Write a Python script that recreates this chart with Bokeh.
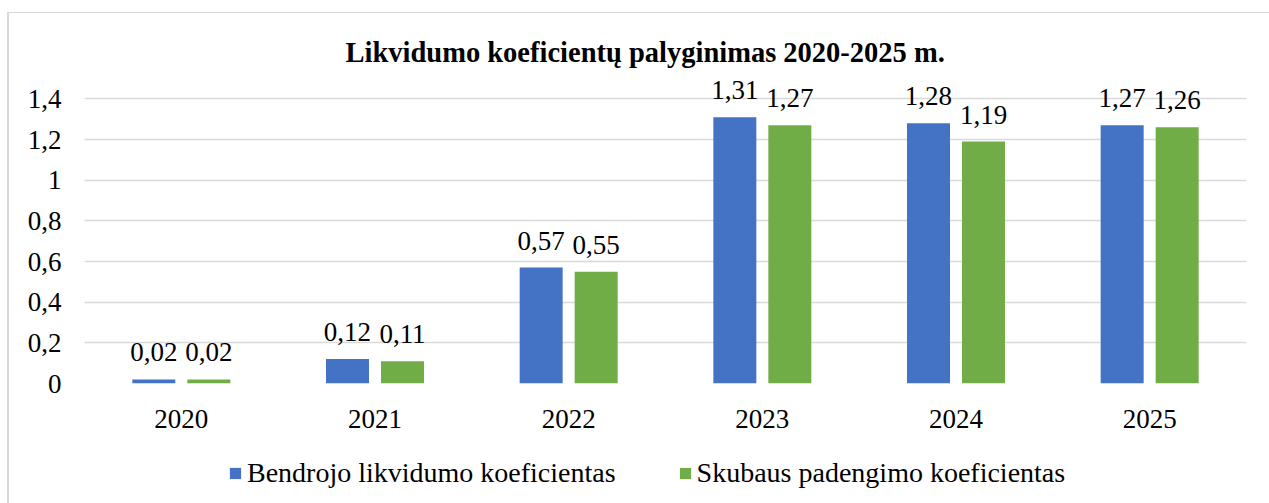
from bokeh.plotting import figure
from bokeh.layouts import column
from bokeh.models import (FactorRange, Range1d, ColumnDataSource, FixedTicker,
                          CustomJSTickFormatter, Legend, LegendItem)
from bokeh.transform import dodge
from bokeh.core.properties import value
from bokeh.embed import file_html
from bokeh.resources import INLINE

years = ["2020", "2021", "2022", "2023", "2024", "2025"]
bendrojo = [0.02, 0.12, 0.57, 1.31, 1.28, 1.27]
skubaus = [0.02, 0.11, 0.55, 1.27, 1.19, 1.26]
series_names = ["Bendrojo likvidumo koeficientas", "Skubaus padengimo koeficientas"]
y_ticks = [0, 0.2, 0.4, 0.6, 0.8, 1.0, 1.2, 1.4]
title_text = "Likvidumo koeficientų palyginimas 2020-2025 m."

BLUE = "#4472C4"
GREEN = "#70AD47"
GRID = "#D9D9D9"
FONT = "Liberation Serif"

def fmt(v):
    return f"{v:.2f}".replace(".", ",")

src = ColumnDataSource(dict(
    years=years,
    b=bendrojo,
    s=skubaus,
    bl=[fmt(v) for v in bendrojo],
    sl=[fmt(v) for v in skubaus],
))

p = figure(
    x_range=FactorRange(*years),
    y_range=Range1d(0, 1.5),
    width=1269, height=455,
    output_backend="svg", toolbar_location=None,
    min_border_left=84, min_border_right=23,
    min_border_top=78, min_border_bottom=72,
)
p.border_fill_alpha = 0
p.styles = {"background": "linear-gradient(#D9D9D9,#D9D9D9) 7px 12px / 2px 100% no-repeat, "
                          "linear-gradient(#D9D9D9,#D9D9D9) 7px 12px / 100% 1px no-repeat"}

p.title.text = title_text
p.title.text_font = FONT
p.title.text_font_size = "28.5px"
p.title.text_font_style = "bold"
p.title.text_color = "#000000"
p.title.align = "left"
p.title.offset = 261
p.title.standoff = 22

r1 = p.vbar(x=dodge("years", -0.142, range=p.x_range), top="b", width=0.222,
            source=src, fill_color=BLUE, line_color=None)
r2 = p.vbar(x=dodge("years", 0.142, range=p.x_range), top="s", width=0.222,
            source=src, fill_color=GREEN, line_color=None)

for off, col, lab in [(-0.142, "b", "bl"), (0.142, "s", "sl")]:
    p.text(x=dodge("years", off, range=p.x_range), y=col, text=lab, source=src,
           text_align="center", text_baseline="alphabetic", y_offset=-27,
           text_font=value(FONT), text_font_size="27px", text_color="#000000")

p.outline_line_color = None
p.xgrid.grid_line_color = None
p.ygrid.grid_line_color = GRID
p.ygrid.grid_line_width = 1.5

p.yaxis.ticker = FixedTicker(ticks=y_ticks)
p.yaxis.formatter = CustomJSTickFormatter(
    code="return (Math.round(tick*10)/10).toString().replace('.', ',');")
for ax in (p.xaxis, p.yaxis):
    ax.axis_line_color = None
    ax.major_tick_line_color = None
    ax.minor_tick_line_color = None
    ax.major_label_text_font = FONT
    ax.major_label_text_font_size = "27px"
    ax.major_label_text_color = "#000000"
p.yaxis.major_label_standoff = 17
p.xaxis.major_label_standoff = 20

# legend strip below the chart (its own renderers lie outside its visible range)
p2 = figure(width=1269, height=48, x_range=FactorRange(*years), y_range=Range1d(10, 11),
            output_backend="svg", toolbar_location=None,
            min_border_left=84, min_border_right=23, min_border_top=0, min_border_bottom=0)
p2.border_fill_alpha = 0
p2.background_fill_alpha = 0
p2.outline_line_color = None
p2.axis.visible = False
p2.grid.visible = False
p2.styles = {"background": "linear-gradient(#D9D9D9,#D9D9D9) 7px 0px / 2px 100% no-repeat"}
l1 = p2.vbar(x="years", top="b", width=0.2, source=src, fill_color=BLUE, line_color=None)
l2 = p2.vbar(x="years", top="s", width=0.2, source=src, fill_color=GREEN, line_color=None)

legend = Legend(items=[LegendItem(label=series_names[0], renderers=[l1]),
                       LegendItem(label=series_names[1], renderers=[l2])],
                orientation="horizontal", location=(144, 14),
                glyph_width=14, glyph_height=14, label_standoff=5, spacing=62,
                padding=0, margin=0, border_line_color=None,
                background_fill_alpha=0,
                label_text_font=FONT, label_text_font_size="28px",
                label_text_color="#000000")
p2.add_layout(legend, "center")

layout = column(p, p2, spacing=0)
open("out.html", "w").write(file_html(layout, INLINE))
